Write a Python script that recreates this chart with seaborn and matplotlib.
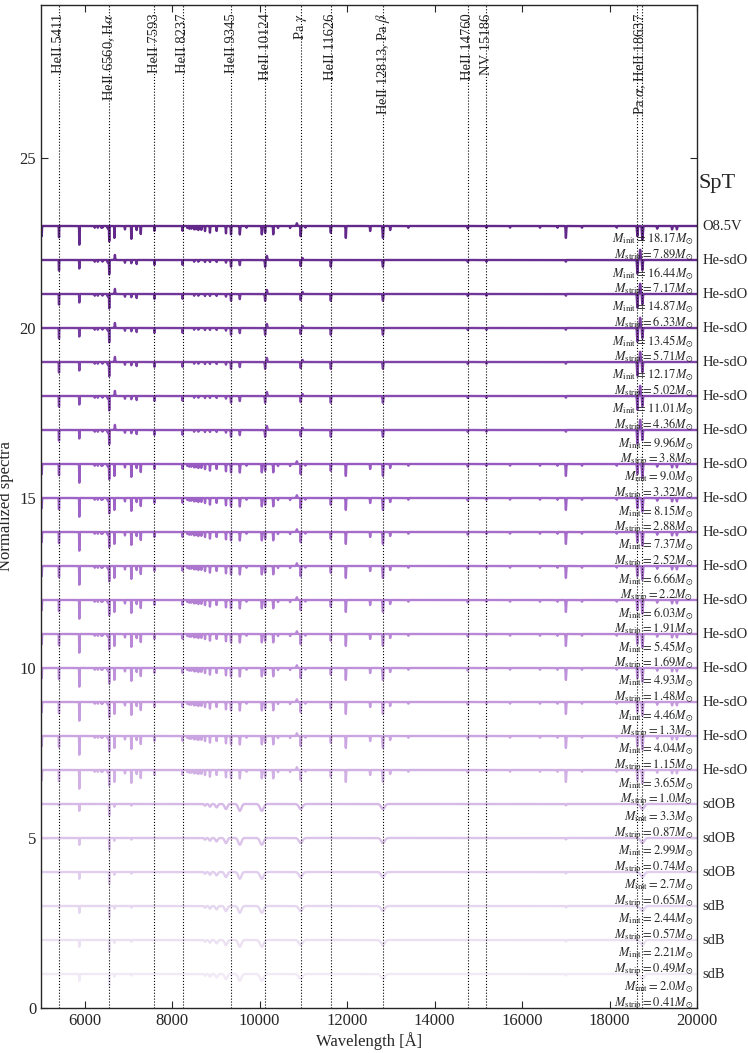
import numpy as np
import pandas as pd
import matplotlib
matplotlib.use("Agg")
import matplotlib.pyplot as plt
import matplotlib.transforms as mtransforms
import seaborn as sns

# ---------------- data ----------------
m_init = [18.17, 16.44, 14.87, 13.45, 12.17, 11.01, 9.96, 9.0, 8.15, 7.37, 6.66, 6.03,
          5.45, 4.93, 4.46, 4.04, 3.65, 3.3, 2.99, 2.7, 2.44, 2.21, 2.0]
m_strip = [7.89, 7.17, 6.33, 5.71, 5.02, 4.36, 3.8, 3.32, 2.88, 2.52, 2.2, 1.91,
           1.69, 1.48, 1.3, 1.15, 1.0, 0.87, 0.74, 0.65, 0.57, 0.49, 0.41]
spt = ["O8.5V"] + ["He-sdO"] * 16 + ["sdOB"] * 3 + ["sdB"] * 3
offsets = list(range(23, 0, -1))
row_template = ["O"] + ["He"] * 6 + ["O"] * 10 + ["B"] * 6

# line templates: wavelength [A], depth (negative = emission), width [A]
tmpl_O_wave = [5016, 5411, 5876, 6230, 6300, 6380, 6405, 6527, 6560, 6678, 6920, 7065, 7188, 7281,
               7593, 8237, 8345, 8392, 8438, 8502, 8545, 8598, 8665, 8750, 8863, 9015, 9229,
               9345, 9546, 9700, 10049, 10124, 10311, 10420, 10696, 10850, 10938, 11045, 11626,
               11970, 12527, 12818, 12985, 13400, 14760, 15186, 15725, 16410, 16810, 17002,
               17370, 18165, 18637, 18751, 19090, 19430, 19540]
tmpl_O_depth = [0.30, 0.35, 0.55, 0.05, 0.05, 0.05, 0.05, 0.08, 0.45, 0.35, 0.10, 0.40, 0.12, 0.25,
                0.15, 0.15, 0.06, 0.08, 0.08, 0.10, 0.10, 0.12, 0.12, 0.15, 0.20, 0.15, 0.22,
                0.25, 0.25, 0.05, 0.25, 0.20, 0.25, 0.06, 0.06, -0.08, 0.30, 0.05, 0.20,
                0.35, 0.15, 0.35, 0.12, 0.05, 0.08, 0.05, 0.05, 0.05, 0.05, 0.35,
                0.05, 0.05, 0.30, 0.40, 0.08, 0.10, 0.10]
tmpl_O_width = [4, 3, 3, 3, 3, 3, 3, 3, 4, 3, 3, 3, 3, 3,
                3, 3, 3, 3, 3, 3, 3, 3, 3, 4, 4, 4, 5,
                5, 6, 3, 6, 5, 5, 3, 3, 8, 6, 3, 5,
                5, 5, 8, 5, 5, 5, 5, 5, 5, 5, 6,
                5, 5, 8, 10, 6, 6, 6]

tmpl_He_wave = [5411, 5876, 6230, 6300, 6405, 6527, 6560, 6690, 6920, 7065, 7188, 7593, 8237,
                8502, 8598, 8750, 8863, 9015, 9229, 9345, 9546, 10124, 10165, 10938, 10980,
                11626, 12818, 14760, 15186, 17002, 18637, 18700, 18751]
tmpl_He_depth = [0.33, 0.25, 0.05, 0.05, 0.05, 0.08, 0.42, -0.15, 0.08, 0.10, 0.12, 0.15, 0.15,
                 0.05, 0.05, 0.06, 0.06, 0.06, 0.08, 0.20, 0.15, 0.20, -0.12, 0.18, -0.06,
                 0.20, 0.20, 0.06, 0.05, 0.05, 0.40, -0.30, 0.30]
tmpl_He_width = [3, 3, 3, 3, 3, 3, 4, 5, 3, 3, 3, 3, 3,
                 3, 3, 3, 3, 3, 4, 5, 5, 6, 8, 6, 8,
                 6, 8, 5, 5, 5, 8, 10, 8]

tmpl_B_wave = [5411, 5876, 6560, 6678, 7065, 8750, 8863, 9015, 9229, 9546, 10049, 10938,
               12818, 17002, 18751]
tmpl_B_depth = [0.04, 0.20, 0.35, 0.08, 0.05, 0.05, 0.08, 0.10, 0.15, 0.20, 0.20, 0.15,
                0.15, 0.04, 0.15]
tmpl_B_width = [3, 3, 4, 3, 3, 15, 20, 25, 30, 35, 40, 40,
                40, 10, 40]

# marked lines
mark_wave = [5411, 6560, 7593, 8237, 9345, 10124, 10938, 11626, 12813, 14760, 15186, 18637, 18751]
label_wave = [5411, 6560, 7593, 8237, 9345, 10124, 10938, 11626, 12813, 14760, 15186, 18694]
label_text = ["HeII 5411", r"HeII 6560, H$\alpha$", "HeII 7593", "HeII 8237", "HeII 9345",
              "HeII 10124", r"Pa $\gamma$", "HeII 11626", r"HeII 12813, Pa $\beta$",
              "HeII 14760", "NV 15186", r"Pa $\alpha$, HeII 18637"]

xticks = [6000, 8000, 10000, 12000, 14000, 16000, 18000, 20000]
yticks = [0, 5, 10, 15, 20, 25]

# ---------------- build spectra from line lists ----------------
wave = np.arange(5000.0, 20001.0, 2.0)
templates = {
    "O": (tmpl_O_wave, tmpl_O_depth, tmpl_O_width),
    "He": (tmpl_He_wave, tmpl_He_depth, tmpl_He_width),
    "B": (tmpl_B_wave, tmpl_B_depth, tmpl_B_width),
}


def spectrum(key):
    ws, ds, ss = templates[key]
    f = np.ones_like(wave)
    for w0, d, s in zip(ws, ds, ss):
        f -= d * np.exp(-0.5 * ((wave - w0) / s) ** 2)
    return f


# ---------------- plot ----------------
sns.set_theme(style="ticks")
plt.rcParams["font.family"] = ["Liberation Serif", "DejaVu Serif"]
plt.rcParams["mathtext.fontset"] = "stix"
plt.rcParams["axes.linewidth"] = 1.0

fig = plt.figure(figsize=(7.48, 10.53), dpi=100)
ax = fig.add_axes([41 / 748, 45 / 1053, 656 / 748, 1003 / 1053])

colors = sns.blend_palette(["#62288a", "#9a5cc4", "#c9a2e0", "#f1eaf6"], len(offsets))

for i, (off, key) in enumerate(zip(offsets, row_template)):
    df = pd.DataFrame({"wave": wave, "flux": spectrum(key) - 1.0 + off})
    sns.lineplot(data=df, x="wave", y="flux", color=colors[i], lw=1.7,
                 estimator=None, sort=False, ax=ax, zorder=2)

for w in mark_wave:
    ax.axvline(w, color="black", ls=":", lw=0.8, zorder=3)

ax.set_xlim(5000, 20000)
ax.set_ylim(0, 29.5)

for w, t in zip(label_wave, label_text):
    ax.text(w, 29.25, t, rotation=90, ha="center", va="top", fontsize=10.5, zorder=4)

for i, off in enumerate(offsets):
    ax.text(19920, off - 0.40, r"$M_{\rm init} = %sM_{\odot}$" % m_init[i],
            ha="right", va="center", fontsize=9, zorder=5)
    ax.text(19920, off - 0.86, r"$M_{\rm strip} = %sM_{\odot}$" % m_strip[i],
            ha="right", va="center", fontsize=9, zorder=5)

trans = mtransforms.blended_transform_factory(ax.transAxes, ax.transData)
for i, off in enumerate(offsets):
    ax.text(1.008, off, spt[i], transform=trans, ha="left", va="center",
            fontsize=10.5, clip_on=False)
ax.text(1.003, 24.25, "SpT", transform=trans, ha="left", va="center", fontsize=16, clip_on=False)

ax.set_xticks(xticks)
ax.set_yticks(yticks)
ax.tick_params(direction="in", top=True, right=True, length=5, width=0.8, labelsize=12)
ax.set_xlabel("Wavelength [Å]", fontsize=12, labelpad=2)
ax.set_ylabel("Normalized spectra", fontsize=12)
ax.yaxis.set_label_coords(-0.041, 0.5)

fig.savefig("out.png", dpi=100)
